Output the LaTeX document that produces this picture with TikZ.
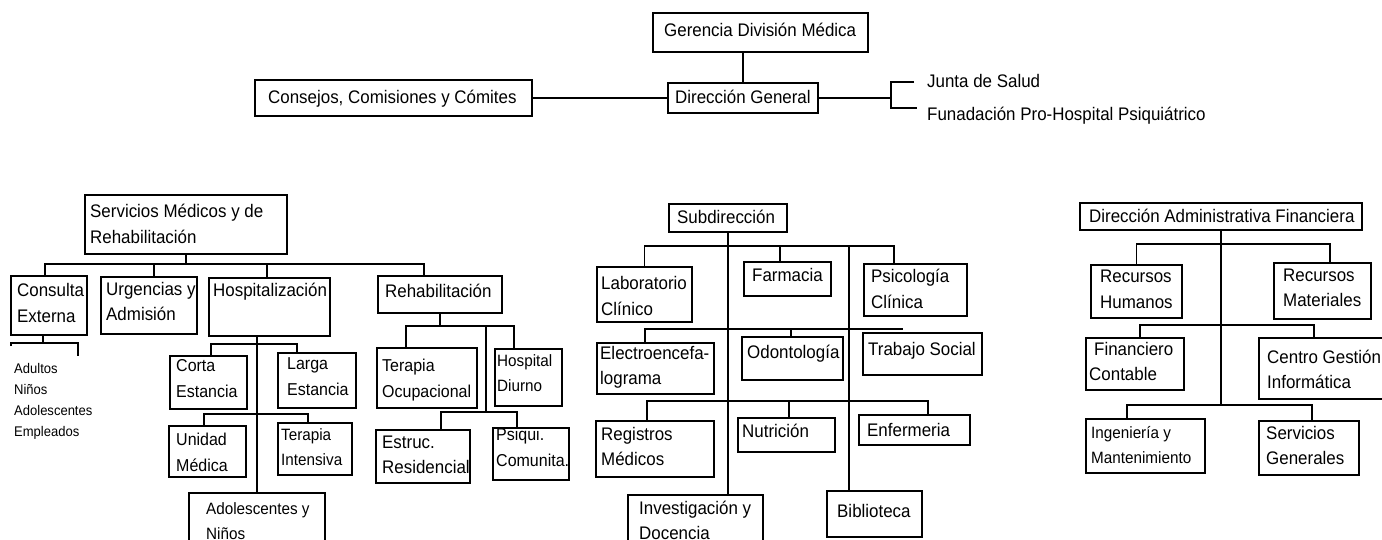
\documentclass[tikz,border=0pt]{standalone}
\usepackage{fontspec}
\setmainfont{Liberation Sans}[FakeStretch=0.93]
\newcommand\mlt[1]{\begin{tabular}[t]{@{}l@{}}#1\end{tabular}}
\newcommand\obox[5]{\node[box, minimum width={(#4)-(#2)}, minimum height={(#5)-(#3)}] (#1) at ({((#2)+(#4))/2},{((#3)+(#5))/2}) {};}
\begin{document}
\begin{tikzpicture}[x=1pt,y=-1pt,
 box/.style={draw, line width=1.3pt, inner sep=0pt, outer sep=0pt},
 lbl/.style={anchor=base west, inner sep=0pt, font=\fontsize{18.2}{25.5}\selectfont},
 lblm/.style={lbl, font=\fontsize{17.2}{26}\selectfont},
 lbls/.style={lbl, font=\fontsize{16.4}{25.5}\selectfont},
 sml/.style={anchor=base west, inner sep=0pt, font=\fontsize{14}{21.3}\selectfont},
 ln/.style={line width=1.3pt}]
\useasboundingbox (0,0) rectangle (1382,540);
\clip (0,0) rectangle (1382,540);

% ---------- top ----------
\obox{ger}{653}{13}{868}{52}
\obox{dg}{668}{83}{818}{113}
\obox{con}{255}{80}{532}{116}
\node[lbl] (ger-t) at (664,37) {Gerencia División Médica};
\node[lbl] (dg-t) at (675,104) {Dirección General};
\node[lbl] (con-t) at (268,104) {Consejos, Comisiones y Cómites};
\node[lbl] (junta-t) at (927,88) {Junta de Salud};
\node[lbl] (fun-t) at (927,121) {Funadación Pro-Hospital Psiquiátrico};
\draw[ln] (dg.north) -- (dg.north |- ger.south);
\draw[ln] (con.east) -- (dg.west);
\coordinate (brm) at (891,98);
\coordinate (brt) at (891,82);
\coordinate (brb) at (891,108);
\coordinate (bre1) at (914,82);
\coordinate (bre2) at (917,108);
\draw[ln] (dg.east) -- (brm);
\draw[ln] (bre1) -- (brt) -- (brb) -- (bre2);

% ---------- left: servicios medicos ----------
\obox{smr}{85}{195}{287}{254}
\obox{ce}{11}{276}{87}{335}
\obox{ua}{101}{277}{197}{334}
\obox{hos}{209}{278}{330}{336}
\obox{reh}{378}{276}{502}{313}
\obox{cs}{170}{356}{247}{409}
\obox{ls}{278}{353}{356}{408}
\obox{um}{169}{426}{246}{477}
\obox{ti}{278}{423}{352}{475}
\obox{an}{189}{493}{325}{570}
\obox{to}{377}{348}{477}{408}
\obox{hd}{495}{349}{562}{406}
\obox{er}{376}{430}{470}{483}
\obox{pc}{493}{428}{569}{480}

\node[lbl] (smr-t) at (90,218) {\mlt{Servicios Médicos y de\\Rehabilitación}};
\node[lbl] (ce-t) at (17,297) {\mlt{Consulta\\Externa}};
\node[lbl] (ua-t) at (106,295) {\mlt{Urgencias y\\Admisión}};
\node[lbl] (hos-t) at (213,297) {Hospitalización};
\node[lbl] (reh-t) at (385,298) {Rehabilitación};
\node[sml] (list-t) at (14,373) {\mlt{Adultos\\Niños\\Adolescentes\\Empleados}};
\node[lblm] (cs-t) at (176,371) {\mlt{Corta\\Estancia}};
\node[lblm] (ls-t) at (287,369) {\mlt{Larga\\Estancia}};
\node[lblm] (um-t) at (176,445) {\mlt{Unidad\\Médica}};
\node[lbls] (ti-t) at (281,440) {\mlt{Terapia\\Intensiva}};
\node[lbls] (an-t) at (206,514) {\mlt{Adolescentes y\\Niños}};
\node[lblm] (to-t) at (382,371) {\mlt{Terapia\\Ocupacional}};
\node[lbls] (hd-t) at (497,366) {\mlt{Hospital\\Diurno}};
\node[lbl] (er-t) at (382,448) {\mlt{Estruc.\\Residencial}};
\node[lblm] (pc-t) at (496,440) {\mlt{Psiqui.\\Comunita.}};

\coordinate (busA) at (0,264);
\draw[ln] (smr.south) -- (smr.south |- busA);
\draw[ln] ([xshift=-4]ce.north) -- ([xshift=-4]ce.north |- busA) -| ([xshift=-16]reh.north);
\draw[ln] ([xshift=5]ua.north) -- ([xshift=5]ua.north |- busA);
\draw[ln] ([xshift=-2.5]hos.north) -- ([xshift=-2.5]hos.north |- busA);
% consulta externa
\coordinate (ceb) at (0,343);
\coordinate (ceL) at (11,346);
\coordinate (ceR) at (78,356);
\draw[ln] ([xshift=-6]ce.south) -- ([xshift=-6]ce.south |- ceb);
\draw[ln] (ceL) |- (ceR |- ceb) -- (ceR);
% hospitalizacion
\draw[ln] ([xshift=-12.5]hos.south) -- (an.north);
\coordinate (hb1) at (0,344);
\draw[ln] ([xshift=2.5]cs.north) -- ([xshift=2.5]cs.north |- hb1) -| ([xshift=-20]ls.north);
\coordinate (hb2) at (0,414);
\draw[ln] ([xshift=-3.5]um.north) -- ([xshift=-3.5]um.north |- hb2) -| ([xshift=-7]ti.north);
% rehabilitacion
\coordinate (rb1) at (0,326);
\draw[ln] (reh.south) -- (reh.south |- rb1);
\draw[ln] ([xshift=-21]to.north) -- ([xshift=-21]to.north |- rb1) -| ([xshift=-14.5]hd.north);
\coordinate (rb2) at (0,412);
\coordinate (rv) at (486,326);
\draw[ln] (rv) -- (rv |- rb2);
\draw[ln] ([xshift=18]er.north) -- ([xshift=18]er.north |- rb2) -| ([xshift=-14]pc.north);

% ---------- middle: subdireccion ----------
\obox{sub}{669}{204}{787}{232}
\obox{lab}{597}{267}{692}{322}
\obox{far}{744}{262}{831}{296}
\obox{psi}{864}{264}{967}{316}
\obox{ele}{597}{343}{714}{394}
\obox{odo}{742}{337}{843}{380}
\obox{ts}{863}{333}{982}{375}
\obox{reg}{596}{421}{714}{477}
\obox{nut}{738}{418}{835}{452}
\obox{enf}{859}{415}{970}{445}
\obox{inv}{628}{495}{763}{570}
\obox{bib}{827}{491}{922}{537}

\node[lbl] (sub-t) at (677,224) {Subdirección};
\node[lbl] (lab-t) at (601,290) {\mlt{Laboratorio\\Clínico}};
\node[lbl] (far-t) at (752,282) {Farmacia};
\node[lbl] (psi-t) at (871,283) {\mlt{Psicología\\Clínica}};
\node[lbl] (ele-t) at (600,359) {\mlt{Electroencefa-\\lograma}};
\node[lbl] (odo-t) at (747,358) {Odontología};
\node[lbl] (ts-t) at (868,355) {Trabajo Social};
\node[lbl] (reg-t) at (601,440) {\mlt{Registros\\Médicos}};
\node[lbl] (nut-t) at (742,437) {Nutrición};
\node[lbl] (enf-t) at (867,436) {Enfermeria};
\node[lbl] (inv-t) at (639,514) {\mlt{Investigación y\\Docencia}};
\node[lbl] (bib-t) at (837,517) {Biblioteca};

\draw[ln] (sub.south) -- (sub.south |- inv.north);
\coordinate (mb1) at (0,246);
\draw[ln] (lab.north) -- (lab.north |- mb1) -| ([xshift=-21.5]psi.north);
\draw[ln] ([xshift=-7.5]far.north) -- ([xshift=-7.5]far.north |- mb1);
\draw[ln] ([xshift=-25.5]bib.north |- mb1) -- ([xshift=-25.5]bib.north);
\coordinate (mb2) at (903,329);
\draw[ln] ([xshift=-10.5]ele.north) -- ([xshift=-10.5]ele.north |- mb2) -- (mb2);
\draw[ln] ([xshift=-1.5]odo.north) -- ([xshift=-1.5]odo.north |- mb2);
\coordinate (mb3) at (0,401);
\draw[ln] ([xshift=-8]reg.north) -- ([xshift=-8]reg.north |- mb3) -| ([xshift=13.5]enf.north);
\draw[ln] ([xshift=2.5]nut.north) -- ([xshift=2.5]nut.north |- mb3);

% ---------- right: direccion administrativa ----------
\obox{daf}{1080}{203}{1362}{230}
\obox{rh}{1091}{265}{1182}{318}
\obox{rm}{1274}{263}{1371}{319}
\obox{fc}{1086}{338}{1184}{390}
\obox{cg}{1259}{338}{1392}{399}
\obox{im}{1086}{419}{1205}{473}
\obox{sg}{1259}{421}{1359}{475}

\node[lbl] (daf-t) at (1089,223) {Dirección Administrativa Financiera};
\node[lbl] (rh-t) at (1100,283) {\mlt{Recursos\\Humanos}};
\node[lbl] (rm-t) at (1283,281) {\mlt{Recursos\\Materiales}};
\node[lbl] (fc-t) at (1089,355) {\mlt{\hspace{5pt}Financiero\\Contable}};
\node[lbl] (cg-t) at (1267,363) {\mlt{Centro Gestión\\Informática}};
\node[lbls] (im-t) at (1091,438) {\mlt{Ingeniería y\\Mantenimiento}};
\node[lbl] (sg-t) at (1266,439) {\mlt{Servicios\\Generales}};

\coordinate (rbC) at (0,405);
\draw[ln] (daf.south) -- (daf.south |- rbC);
\coordinate (rbA) at (0,244);
\draw[ln] (rh.north) -- (rh.north |- rbA) -| ([xshift=7.5]rm.north);
\coordinate (rbB) at (0,325);
\draw[ln] ([xshift=5]fc.north) -- ([xshift=5]fc.north |- rbB) -| ([xshift=-11.5]cg.north);
\draw[ln] ([xshift=-18.5]im.north) -- ([xshift=-18.5]im.north |- rbC) -| ([xshift=3]sg.north);
\end{tikzpicture}
\end{document}
